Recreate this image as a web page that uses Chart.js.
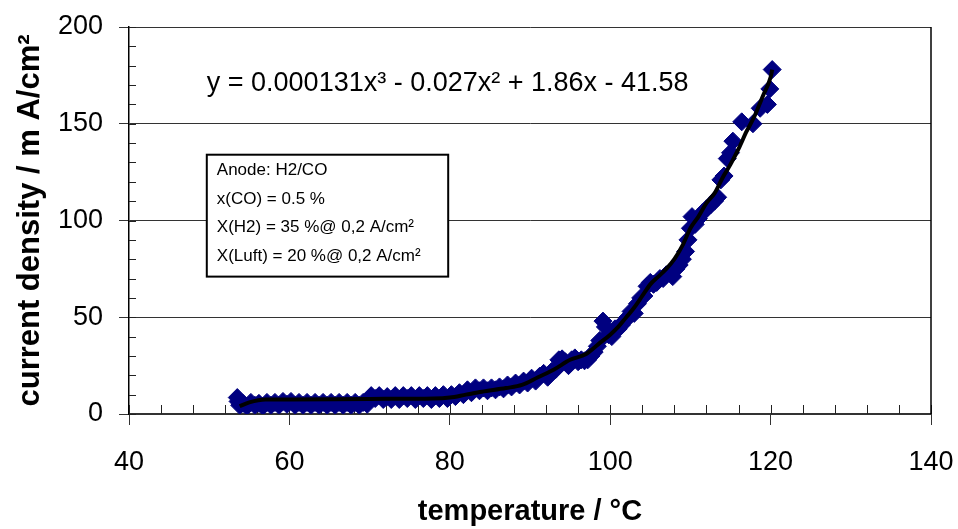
<!DOCTYPE html>
<html>
<head>
<meta charset="utf-8">
<script src="https://cdn.jsdelivr.net/npm/chart.js@4"></script>
<style>
  html, body { margin: 0; padding: 0; background: #fff; }
  canvas { display: block; }
</style>
</head>
<body>
<canvas id="myChart" width="958" height="529"></canvas>
<script>
// measured points, temperature in °C
const temperature = [
  53.5, 53.6, 53.8, 54.2, 54.7, 55.2, 55.7, 56.2, 56.7, 57.2, 57.7, 58.2, 58.7, 59.2, 59.7,
  60.2, 60.7, 61.2, 61.7, 62.2, 62.7, 63.2, 63.7, 64.2, 64.7, 65.2, 65.7, 66.2, 66.7, 67.2,
  67.7, 68.2, 68.7, 69.2, 69.7, 70.2, 70.7, 71.2, 71.7, 72.2, 72.7, 73.2, 73.7, 74.2, 74.7,
  75.2, 75.7, 76.2, 76.7, 77.2, 77.7, 78.2, 78.7, 79.2, 79.7, 80.2, 80.7, 81.2, 81.7, 82.2,
  82.7, 83.2, 83.7, 84.2, 84.7, 85.2, 85.7, 86.2, 86.7, 87.2, 87.7, 88.2, 88.7, 89.2, 89.7,
  90.2, 90.7, 91.2, 91.7, 92.2, 92.7, 93.2, 93.6, 94.0, 94.4, 94.8, 95.2, 95.6, 96.0, 96.4,
  96.8, 97.2, 97.6, 98.0, 98.4, 98.7, 99.1, 99.4, 99.8, 100.2, 100.6, 101.0, 101.4, 101.8, 102.2,
  102.6, 103.0, 103.4, 103.8, 104.2, 104.6, 105.0, 105.4, 105.8, 106.2, 106.6, 107.0, 107.4, 107.8, 108.2,
  108.6, 109.0, 109.4, 109.7, 110.0, 110.2, 110.6, 111.0, 111.5, 112.0, 112.5, 113.0, 113.4, 113.8, 114.2,
  114.6, 115.0, 115.3, 116.4, 117.8, 118.7, 119.6, 119.9, 120.2
];
// current density in mA/cm²
const currentDensity = [
  8.5, 6.5, 4.5, 5.5, 4, 6, 4.5, 5.5, 4, 6, 4.5, 6, 4.5, 6.5, 5,
  6.5, 4.5, 6, 4.5, 6, 4.5, 6, 4.5, 6, 4.5, 6, 4.5, 6, 4.5, 6,
  4.5, 6, 4.5, 6, 5, 9.5, 8, 9.5, 7.5, 9, 7.5, 9.5, 7.5, 9.5, 8,
  9.5, 7.5, 9.5, 8, 9.5, 7.5, 9.5, 8, 10, 8, 10, 9, 11, 10, 12.5,
  11, 13.5, 12, 13.5, 12, 13.5, 12.5, 14, 13, 15, 14, 16, 15, 17, 16,
  18.5, 17, 19.5, 21, 19, 22, 23, 28, 28.5, 27, 25, 28, 29, 27, 28,
  27.5, 28, 30, 32, 35, 38, 48, 45, 41, 40, 44, 44, 46, 48, 50,
  53, 52, 57, 60, 61, 66, 68, 67, 68, 70, 70, 72, 73, 71, 75,
  77, 80, 84, 90, 96, 102, 98, 101, 104, 106, 108, 110, 112, 121, 123,
  132, 135, 141, 151, 150, 158, 160, 168, 178
];

// trend line
const fitTemperature = [53.8, 55, 57, 60, 70, 78, 80, 82, 84, 87, 89, 91, 93, 95, 97, 98.5, 100, 101, 102, 103,
  104, 105, 106, 107, 108, 109, 110, 111, 112, 113, 114, 115, 116, 117, 118, 119, 120, 120.2];
const fitDensity = [4, 6, 7.5, 7.5, 7.8, 8, 8.5, 10, 11.5, 13.4, 15, 19, 23, 28, 31, 36, 41, 45, 50, 55,
  61, 67, 71, 75, 80, 87, 96, 102, 109, 114, 122, 129, 137, 146, 154, 164, 174, 178];

const xTicks = [40, 60, 80, 100, 120, 140];
const yTicks = [0, 50, 100, 150, 200];

const equationText = 'y = 0.000131x³ - 0.027x² + 1.86x - 41.58';
const boxLines = ['Anode: H2/CO', 'x(CO) = 0.5 %', 'X(H2) = 35 %@ 0,2 A/cm²', 'X(Luft) = 20 %@ 0,2 A/cm²'];

const FONT = "'Liberation Sans', Arial, sans-serif";

const toPoints = (xs, ys) => xs.map((x, i) => ({ x: x, y: ys[i] }));

// inner tick marks, frame, equation and info box
const extras = {
    id: 'extras',
    beforeDatasetsDraw(chart) {
        const { ctx, chartArea: a, scales: { x, y } } = chart;
        ctx.save();
        ctx.strokeStyle = '#222';
        ctx.lineWidth = 1;
        ctx.beginPath();
        for (let v = 40; v <= 140; v += 4) {
            const px = Math.round(x.getPixelForValue(v)) + 0.5;
            ctx.moveTo(px, a.bottom);
            ctx.lineTo(px, a.bottom - 9);
        }
        for (let v = 0; v <= 200; v += 10) {
            const py = Math.round(y.getPixelForValue(v)) + 0.5;
            ctx.moveTo(a.left, py);
            ctx.lineTo(a.left + 7, py);
        }
        ctx.stroke();
        // right border of the plot area
        ctx.lineWidth = 1.5;
        ctx.strokeStyle = '#000';
        ctx.beginPath();
        ctx.moveTo(a.right, a.top);
        ctx.lineTo(a.right, a.bottom);
        ctx.stroke();
        ctx.restore();
    },
    afterDraw(chart) {
        const { ctx, scales: { x, y } } = chart;
        ctx.save();
        ctx.fillStyle = '#000';
        ctx.textBaseline = 'middle';
        ctx.font = '27px ' + FONT;
        ctx.fillText(equationText, x.getPixelForValue(49.7), y.getPixelForValue(171));

        // info box anchored on the axes
        const bx = x.getPixelForValue(49.7), by = y.getPixelForValue(134);
        const bw = x.getPixelForValue(79.8) - bx, bh = y.getPixelForValue(71) - by;
        ctx.fillStyle = '#fff';
        ctx.fillRect(bx, by, bw, bh);
        ctx.lineWidth = 2;
        ctx.strokeStyle = '#000';
        ctx.strokeRect(bx, by, bw, bh);
        ctx.fillStyle = '#000';
        ctx.font = '17px ' + FONT;
        boxLines.forEach((t, i) => ctx.fillText(t, bx + 10, by + 16 + i * 28.5));
        ctx.restore();
    }
};

const config = {
    type: 'scatter',
    data: {
        datasets: [
            {
                label: 'trend',
                data: toPoints(fitTemperature, fitDensity),
                showLine: true,
                borderColor: '#000',
                borderWidth: 4,
                pointRadius: 0,
                cubicInterpolationMode: 'monotone',
                order: 0
            },
            {
                label: 'current density',
                data: toPoints(temperature, currentDensity),
                pointStyle: 'rectRot',
                pointRadius: 9,
                pointHoverRadius: 9,
                backgroundColor: '#000080',
                borderColor: '#000080',
                borderWidth: 1,
                order: 1
            }
        ]
    },
    options: {
        responsive: false,
        animation: false,
        devicePixelRatio: 1,
        layout: { padding: { top: 27, right: 27, left: 0, bottom: 0 } },
        plugins: {
            legend: { display: false },
            tooltip: { enabled: false }
        },
        scales: {
            x: {
                type: 'linear',
                min: 40,
                max: 140,
                afterBuildTicks: (s) => { s.ticks = xTicks.map(v => ({ value: v })); },
                afterFit: (s) => { s.height = 115; s.paddingLeft = 0; s.paddingRight = 0; },
                ticks: { font: { family: FONT, size: 27 }, color: '#000', padding: 21 },
                grid: { drawOnChartArea: false, tickLength: 11, color: '#333' },
                border: { color: '#333', width: 2 },
                title: {
                    display: true,
                    text: 'temperature / °C',
                    color: '#000',
                    font: { family: FONT, size: 29, weight: 'bold' },
                    padding: { top: 0, bottom: 0 }
                }
            },
            y: {
                min: 0,
                max: 200,
                afterBuildTicks: (s) => { s.ticks = yTicks.map(v => ({ value: v })); },
                afterFit: (s) => { s.width = 129; s.paddingTop = 0; s.paddingBottom = 0; },
                ticks: { font: { family: FONT, size: 27 }, color: '#000', padding: 16 },
                grid: { color: '#333', lineWidth: 1, tickLength: 10 },
                border: { color: '#000', width: 1.5 },
                title: {
                    display: true,
                    text: 'current density / m A/cm²',
                    color: '#000',
                    font: { family: FONT, size: 31, weight: 'bold' },
                    padding: { top: 12, bottom: 0 }
                }
            }
        }
    },
    plugins: [extras]
};

const myChart = new Chart(document.getElementById('myChart'), config);
</script>
</body>
</html>
